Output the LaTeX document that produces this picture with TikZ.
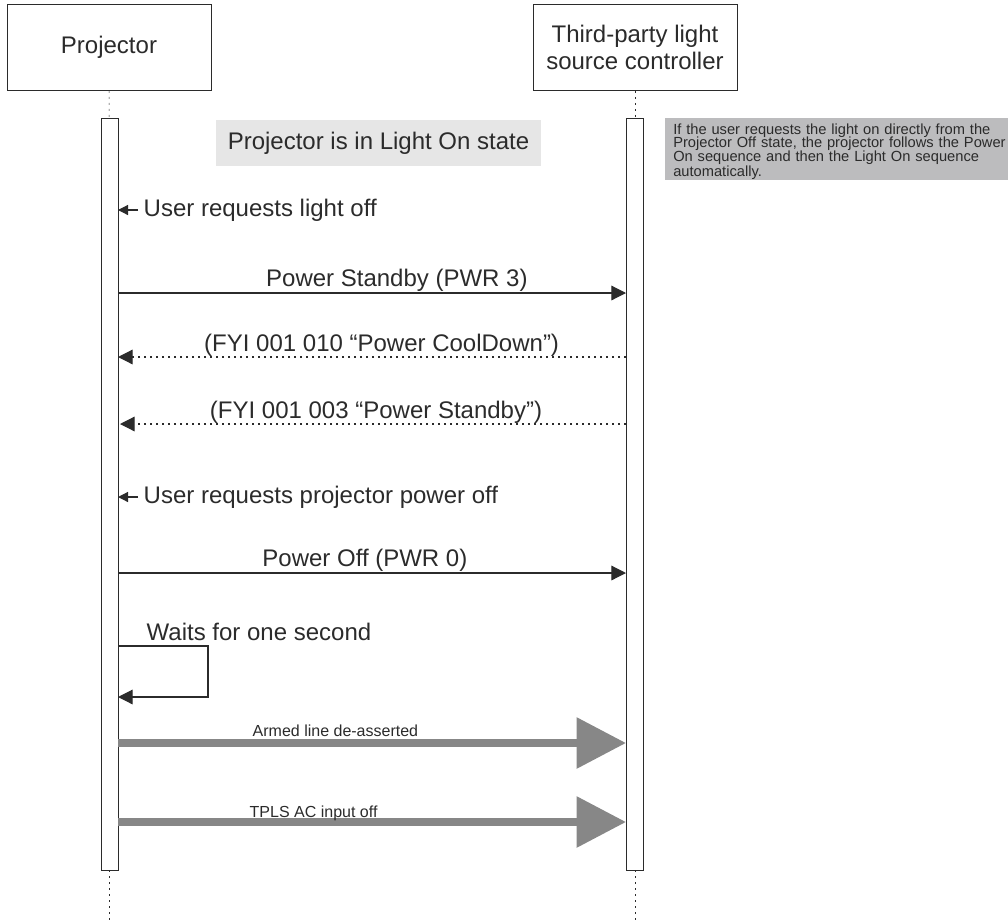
\documentclass[tikz,border=0pt]{standalone}
\usepackage{fontspec}
\setmainfont{Liberation Sans}
\usetikzlibrary{arrows.meta}
\definecolor{ink}{HTML}{2B2B2B}
\definecolor{statebg}{HTML}{E6E6E6}
\definecolor{notebg}{HTML}{BCBCBE}
\definecolor{thick}{HTML}{878787}

\begin{document}
\begin{tikzpicture}[x=0.75pt,y=-0.75pt,
    every node/.style={text=ink},
    actor/.style={draw=ink, fill=white, minimum width=153pt, minimum height=64.5pt,
      align=center, font=\fontsize{18}{20}\selectfont},
    bar/.style={draw=ink, fill=white, minimum width=12.75pt, minimum height=564pt, inner sep=0pt},
    life/.style={draw=ink, dash pattern=on 1.5pt off 3pt},
    big/.style={font=\fontsize{18}{20}\selectfont},
    small/.style={font=\fontsize{12}{14}\selectfont},
    msg/.style={draw=ink, line width=0.9pt, -{Triangle[length=11pt,width=11pt]}},
    reply/.style={msg, dash pattern=on 1.5pt off 3pt},
    poke/.style={draw=ink, line width=0.9pt, -{Triangle[length=7.5pt,width=7.5pt]}},
    wire/.style={draw=thick, line width=6pt, -{Triangle[length=37pt,width=37pt]}}
  ]
  \useasboundingbox (0,0) rectangle (1008,922);
  % lifelines
  \node [actor] (proj) at (109,47.5) {Projector};
  \node [actor] (tpls) at (635,47.5) {Third-party light\\source controller};
  \node [bar] (pbar) at (109.5,494) {};
  \node [bar] (tbar) at (635,494) {};
  \coordinate (pend) at (109.5,922);
  \coordinate (tend) at (635,922);
  \draw [life] (proj) -- (pbar);
  \draw [life] (tpls) -- (tbar);
  \draw [life] (pbar) -- (pend);
  \draw [life] (tbar) -- (tend);

  % state and note
  \node [big, fill=statebg, minimum width=243.75pt, minimum height=35pt] (state) at (378.5,143) {Projector is in Light On state};
  \node [fill=notebg, anchor=north west, minimum width=260pt, text width=258pt,
    inner xsep=6pt, inner ysep=0.2pt, align=left,
    font=\fontsize{11}{10}\selectfont] (note) at (665,118)
    {\lineskiplimit=-5pt\relax\rule{0pt}{12pt}If the user requests the light on directly from the\\Projector Off state, the projector follows the Power\\On sequence and then the Light On sequence\\automatically.};

  % user requests
  \coordinate (u1) at (138,210);
  \coordinate (p1) at (118,210);
  \draw [poke] (u1) -- (p1);
  \node [big, anchor=west] (req1) at (139,210) {User requests light off};
  \coordinate (u2) at (138,497);
  \coordinate (p2) at (118,497);
  \draw [poke] (u2) -- (p2);
  \node [big, anchor=west] (req2) at (139,497) {User requests projector power off};

  % messages
  \coordinate (a1) at (118,293);
  \coordinate (b1) at (626,293);
  \draw [msg] (a1) -- (b1) node [big, pos=.549, above, inner sep=1pt] (m1) {Power Standby (PWR 3)};
  \coordinate (b2) at (626,357);
  \coordinate (a2) at (118,357);
  \draw [reply] (b2) -- (a2) node [big, pos=.481, above, inner sep=0pt] (m2) {(FYI 001 010 “Power CoolDown”)};
  \coordinate (b3) at (626,424);
  \coordinate (a3) at (120,424);
  \draw [reply] (b3) -- (a3) node [big, pos=.494, above, inner sep=0pt] (m3) {(FYI 001 003 “Power Standby”)};
  \coordinate (a4) at (118,573);
  \coordinate (b4) at (626,573);
  \draw [msg] (a4) -- (b4) node [big, pos=.486, above, inner sep=1pt] (m4) {Power Off (PWR 0)};

  % self call
  \coordinate (s1) at (118,646);
  \coordinate (s2) at (118,697);
  \draw [msg] (s1) -| (208,697) -- (s2);
  \node [big, anchor=west] (wait) at (142,632) {Waits for one second};

  % hardware lines
  \coordinate (a5) at (118,743);
  \coordinate (b5) at (626,743);
  \draw [wire] (a5) -- (b5);
  \node [small, anchor=west] (h1) at (248,731) {Armed line de-asserted};
  \coordinate (a6) at (118,822);
  \coordinate (b6) at (626,822);
  \draw [wire] (a6) -- (b6);
  \node [small, anchor=west] (h2) at (245,813) {TPLS AC input off};
\end{tikzpicture}
\end{document}
